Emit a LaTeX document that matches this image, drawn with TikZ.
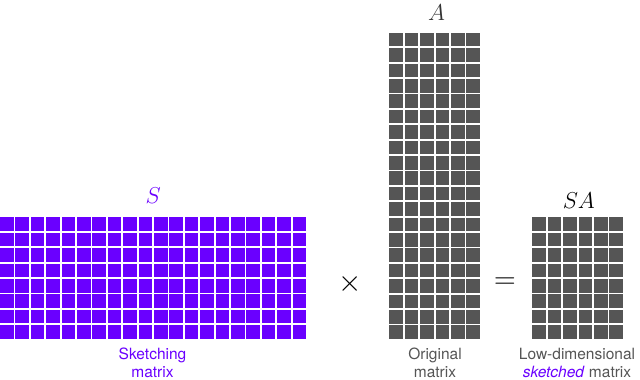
\RequirePackage{fix-cm}
\documentclass[tikz,border=0pt]{standalone}
\usepackage{fontspec}
\newfontfamily\labelfont{TeX Gyre Heros}
\definecolor{skpurple}{HTML}{6A00FF}
\definecolor{cellgray}{HTML}{555555}
\definecolor{txtgray}{HTML}{555555}

\begin{document}
\begin{tikzpicture}[
    x=1pt, y=-1pt,
    every node/.style={inner sep=0pt},
    caption/.style={font=\labelfont\fontsize{15.5}{17.5}\selectfont, align=center, anchor=north},
    matlabel/.style={font=\fontsize{23}{27}\selectfont, anchor=base},
    oplabel/.style={font=\fontsize{30}{34}\selectfont},
  ]

  % Canvas
  \useasboundingbox (0,0) rectangle (640,380);

  % Cell pitch and size
  \pgfmathsetmacro{\pitch}{15.4}
  \pgfmathsetmacro{\cell}{13.6}

  %%% ============================================================ %%%
  %%% Sketching matrix S (8 x 20)                                   %%%
  %%% ============================================================ %%%
  \foreach \i in {0,...,19} {
    \foreach \j in {0,...,7} {
      \fill[skpurple] ({0+\i*\pitch},{217.3+\j*\pitch}) rectangle ++(\cell,\cell);
    }
  }
  \node[matlabel, text=skpurple] (slabel) at (153.3,203) {$S$};
  \node[caption, text=skpurple] (scap) at (152.5,348) {Sketching\\matrix};

  % Times sign
  \node[oplabel] (times) at (350.5,283.5) {$\times$};

  %%% ============================================================ %%%
  %%% Original matrix A (20 x 6)                                    %%%
  %%% ============================================================ %%%
  \foreach \i in {0,...,5} {
    \foreach \j in {0,...,19} {
      \fill[cellgray] ({389.3+\i*\pitch},{32.7+\j*\pitch}) rectangle ++(\cell,\cell);
    }
  }
  \node[matlabel, text=black!80] (alabel) at (436.5,20) {$A$};
  \node[caption, text=txtgray] (acap) at (435,348) {Original\\matrix};

  % Equals sign
  \node[oplabel] (equals) at (505,283.3) {$=$};

  %%% ============================================================ %%%
  %%% Sketched matrix SA (8 x 6)                                    %%%
  %%% ============================================================ %%%
  \foreach \i in {0,...,5} {
    \foreach \j in {0,...,7} {
      \fill[cellgray] ({532.3+\i*\pitch},{217.3+\j*\pitch}) rectangle ++(\cell,\cell);
    }
  }
  \node[matlabel] (salabel) at (578.8,208.5) {$SA$};
  \node[caption, text=txtgray] (sacap) at (577,348)
    {Low-dimensional\\\textcolor{skpurple}{\textit{sketched}} matrix};

\end{tikzpicture}
\end{document}
